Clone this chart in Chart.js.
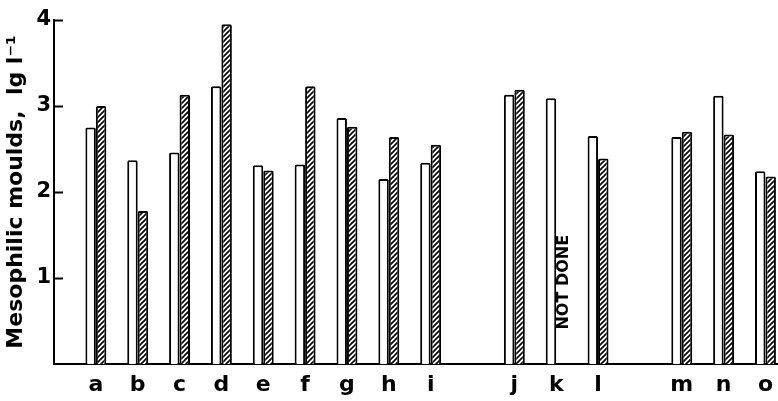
<!DOCTYPE html>
<html>
<head>
<meta charset="utf-8">
<script src="https://cdn.jsdelivr.net/npm/chart.js@4"></script>
<style>
  html, body { margin: 0; padding: 0; background: #fff; }
  #wrap { width: 778px; height: 401px; }
</style>
</head>
<body>
<div id="wrap"><canvas id="moulds" width="778" height="401"></canvas></div>
<script>
// categories and their slot on the axis (gaps after i and after l)
const categories = ['a', 'b', 'c', 'd', 'e', 'f', 'g', 'h', 'i', 'j', 'k', 'l', 'm', 'n', 'o'];
const slots = [0, 1, 2, 3, 4, 5, 6, 7, 8, 10, 11, 12, 14, 15, 16];

// lg l-1
const openBars = [2.75, 2.37, 2.46, 3.23, 2.31, 2.32, 2.86, 2.15, 2.34, 3.13, 3.09, 2.65, 2.64, 3.12, 2.24];
const hatchedBars = [3.00, 1.78, 3.13, 3.95, 2.25, 3.23, 2.76, 2.64, 2.55, 3.19, null, 2.39, 2.70, 2.67, 2.18];

const yTicks = [1, 2, 3, 4];

const FONT = 'DejaVu Sans';

// diagonal hatch
function makeHatch() {
    const c = document.createElement('canvas');
    c.width = 5;
    c.height = 5;
    const g = c.getContext('2d');
    g.fillStyle = '#fff';
    g.fillRect(0, 0, 5, 5);
    g.strokeStyle = '#000';
    g.lineWidth = 1.6;
    g.beginPath();
    g.moveTo(-1, 6); g.lineTo(6, -1);
    g.moveTo(-1, 1); g.lineTo(1, -1);
    g.moveTo(4, 6); g.lineTo(6, 4);
    g.stroke();
    return g.createPattern(c, 'repeat');
}

function toPoints(values) {
    return values.map((v, i) => ({ x: slots[i], y: v }));
}

// short tick marks inside the axis + the "NOT DONE" note
const extras = {
    id: 'extras',
    afterDraw(chart) {
        const ctx = chart.ctx;
        const x = chart.scales.x;
        const y = chart.scales.y;
        const left = chart.chartArea.left;
        ctx.save();
        ctx.strokeStyle = '#000';
        ctx.lineWidth = 2;
        yTicks.forEach(t => {
            const py = Math.round(y.getPixelForValue(t)) + 0.5;
            ctx.beginPath();
            ctx.moveTo(left, py);
            ctx.lineTo(left + 9, py);
            ctx.stroke();
        });
        const k = categories.indexOf('k');
        const px = x.getPixelForValue(slots[k]) + 8;
        const py = y.getPixelForValue(0.4);
        ctx.translate(px, py);
        ctx.rotate(-Math.PI / 2);
        ctx.fillStyle = '#000';
        ctx.font = 'bold 16px ' + FONT;
        ctx.textAlign = 'left';
        ctx.textBaseline = 'middle';
        ctx.fillText('NOT DONE', 0, 0);
        ctx.restore();
    }
};

const ctx = document.getElementById('moulds').getContext('2d');
const chart = new Chart(ctx, {
    type: 'bar',
    data: {
        datasets: [{
            data: toPoints(openBars),
            backgroundColor: '#fff',
            borderColor: '#000',
            borderWidth: 2,
            borderRadius: 1.5,
            borderSkipped: 'bottom'
        }, {
            data: toPoints(hatchedBars),
            backgroundColor: makeHatch(),
            borderColor: '#000',
            borderWidth: 2,
            borderRadius: 1.5,
            borderSkipped: 'bottom'
        }]
    },
    options: {
        responsive: false,
        animation: false,
        categoryPercentage: 0.5,
        barPercentage: 1.0,
        layout: { padding: { top: 20, right: 0, left: 0, bottom: 0 } },
        plugins: {
            legend: { display: false },
            tooltip: { enabled: false }
        },
        scales: {
            x: {
                type: 'linear',
                offset: false,
                min: -1,
                max: 16.3,
                grid: { display: false },
                border: { display: true, color: '#000', width: 2 },
                afterBuildTicks: (scale) => {
                    scale.ticks = slots.map(s => ({ value: s }));
                },
                afterFit: (scale) => { scale.height = 37; },
                ticks: {
                    autoSkip: false,
                    maxRotation: 0,
                    padding: 0,
                    color: '#000',
                    font: { family: FONT, size: 22, weight: 'bold' },
                    callback: (v) => {
                        const i = slots.indexOf(v);
                        return i >= 0 ? categories[i] : '';
                    }
                }
            },
            y: {
                min: 0,
                max: 4,
                grid: { display: false, drawTicks: false },
                border: { display: true, color: '#000', width: 2 },
                afterFit: (scale) => { scale.width = 54; },
                afterBuildTicks: (scale) => {
                    scale.ticks = yTicks.map(t => ({ value: t }));
                },
                ticks: {
                    padding: 3,
                    color: '#000',
                    font: { family: FONT, size: 21, weight: 'bold' }
                },
                title: {
                    display: true,
                    text: 'Mesophilic moulds,  lg l\u207B\u00B9',
                    color: '#000',
                    padding: { top: 3, bottom: 0 },
                    font: { family: FONT, size: 22, weight: 'bold' }
                }
            }
        }
    },
    plugins: [extras]
});
</script>
</body>
</html>
